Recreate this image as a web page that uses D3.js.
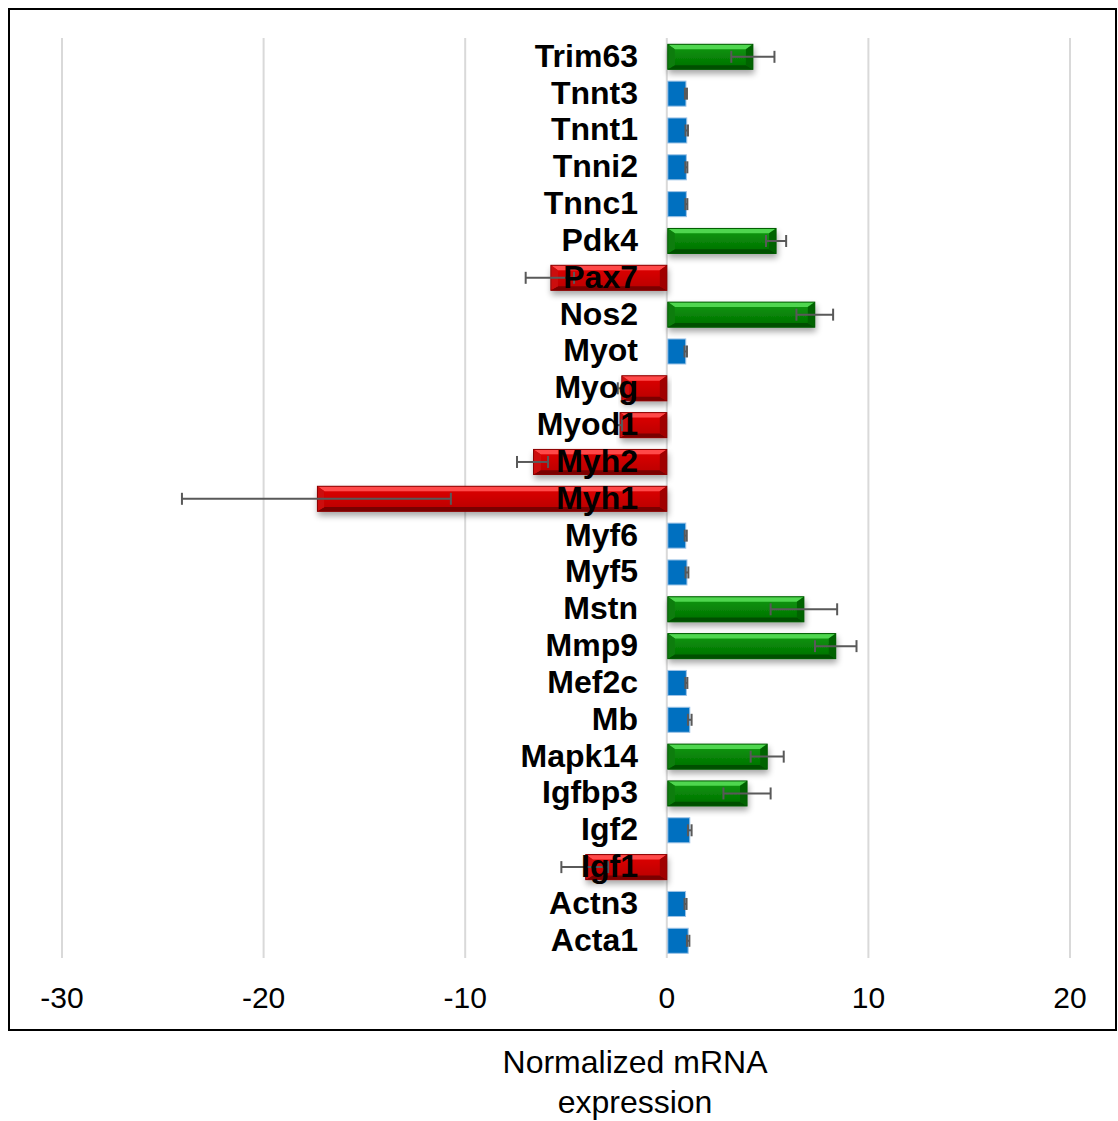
<!DOCTYPE html>
<html>
<head>
<meta charset="utf-8">
<script src="https://cdn.jsdelivr.net/npm/d3@7"></script>
<style>
  html, body { margin: 0; padding: 0; background: #fff; }
  svg { display: block; font-family: "Liberation Sans", Arial, sans-serif; }
</style>
</head>
<body>
<svg id="chart" width="1118" height="1121"></svg>
<script>
// Genes, top to bottom
const genes = ["Trim63", "Tnnt3", "Tnnt1", "Tnni2", "Tnnc1", "Pdk4", "Pax7", "Nos2", "Myot", "Myog",
  "Myod1", "Myh2", "Myh1", "Myf6", "Myf5", "Mstn", "Mmp9", "Mef2c", "Mb", "Mapk14",
  "Igfbp3", "Igf2", "Igf1", "Actn3", "Acta1"];
// Normalized expression (mean)
const expression = [4.27, 0.95, 0.99, 0.97, 0.97, 5.42, -5.8, 7.34, 0.94, -2.28,
  -2.37, -6.66, -17.38, 0.94, 1.0, 6.8, 8.38, 0.97, 1.14, 4.98,
  3.98, 1.14, -4.07, 0.93, 1.06];
// Error (+/-)
const errors = [1.07, 0.05, 0.06, 0.05, 0.05, 0.5, 1.2, 0.91, 0.06, 0.15,
  0.15, 0.77, 6.67, 0.05, 0.07, 1.65, 1.03, 0.05, 0.09, 0.82,
  1.17, 0.09, 1.16, 0.05, 0.06];
// Regulation group
const regulation = ["up", "none", "none", "none", "none", "up", "down", "up", "none", "down",
  "down", "down", "down", "none", "none", "up", "up", "none", "none", "up",
  "up", "none", "down", "none", "none"];
const xTicks = [-30, -20, -10, 0, 10, 20];
const axisTitle = ["Normalized mRNA", "expression"];

const rows = genes.map((g, i) => ({ gene: g, value: expression[i], err: errors[i], group: regulation[i] }));

const svg = d3.select("#chart");
const x = d3.scaleLinear().domain([-30, 20]).range([62, 1070]);
const y = d3.scaleBand().domain(genes).range([38.4, 959.2]).paddingInner(0.32).paddingOuter(0.16);

const palette = {
  up:   { light: "#4fd64f", face0: "#0f9a0f", face1: "#006e00", dark: "#005000", side: "#0a7d0a", side2: "#066306", stroke: "#005a00" },
  down: { light: "#ff4a4a", face0: "#e00000", face1: "#b80000", dark: "#7a0000", side: "#cc1010", side2: "#a00000", stroke: "#8a0000" }
};

const defs = svg.append("defs");
Object.entries(palette).forEach(([k, c]) => {
  const g = defs.append("linearGradient").attr("id", "face-" + k).attr("x1", 0).attr("y1", 0).attr("x2", 0).attr("y2", 1);
  g.append("stop").attr("offset", "0%").attr("stop-color", c.face0);
  g.append("stop").attr("offset", "100%").attr("stop-color", c.face1);
});
const shadow = defs.append("filter").attr("id", "shadow").attr("x", "-10%").attr("y", "-30%").attr("width", "120%").attr("height", "180%");
shadow.append("feGaussianBlur").attr("in", "SourceAlpha").attr("stdDeviation", 3).attr("result", "b");
shadow.append("feOffset").attr("in", "b").attr("dx", 1).attr("dy", 4).attr("result", "o");
shadow.append("feComponentTransfer").attr("in", "o").attr("result", "s")
  .append("feFuncA").attr("type", "linear").attr("slope", 0.35);
const merge = shadow.append("feMerge");
merge.append("feMergeNode").attr("in", "s");
merge.append("feMergeNode").attr("in", "SourceGraphic");

// Frame
svg.append("rect").attr("x", 9).attr("y", 9).attr("width", 1107).attr("height", 1021)
  .attr("fill", "none").attr("stroke", "#000").attr("stroke-width", 2);

// Vertical gridlines
svg.append("g").selectAll("line").data(xTicks).join("line")
  .attr("x1", d => x(d)).attr("x2", d => x(d))
  .attr("y1", 38).attr("y2", 958)
  .attr("stroke", "#d9d9d9").attr("stroke-width", 2);

// Bars
const bars = svg.append("g");
rows.forEach(r => {
  const x0 = Math.min(x(0), x(r.value)) + 1;
  const x1 = Math.max(x(0), x(r.value));
  const y0 = y(r.gene), y1 = y0 + y.bandwidth();
  if (r.group === "none") {
    bars.append("rect").attr("x", x0).attr("y", y0).attr("width", x1 - x0).attr("height", y1 - y0)
      .attr("fill", "#0070c0").attr("stroke", "#9dc3e6").attr("stroke-width", 1);
    return;
  }
  const c = palette[r.group];
  const b = 7;
  const g = bars.append("g").attr("filter", "url(#shadow)");
  g.append("rect").attr("x", x0).attr("y", y0).attr("width", x1 - x0).attr("height", y1 - y0)
    .attr("fill", `url(#face-${r.group})`);
  const poly = (pts, fill) => g.append("polygon").attr("points", pts.map(p => p.join(",")).join(" ")).attr("fill", fill);
  poly([[x0, y0], [x1, y0], [x1 - b, y0 + b * 0.7], [x0 + b, y0 + b * 0.7]], c.light);
  poly([[x0, y1], [x1, y1], [x1 - b, y1 - b * 0.6], [x0 + b, y1 - b * 0.6]], c.dark);
  poly([[x0, y0], [x0 + b, y0 + b * 0.7], [x0 + b, y1 - b * 0.6], [x0, y1]], c.side);
  poly([[x1, y0], [x1 - b, y0 + b * 0.7], [x1 - b, y1 - b * 0.6], [x1, y1]], c.side2);
  g.append("rect").attr("x", x0).attr("y", y0).attr("width", x1 - x0).attr("height", y1 - y0)
    .attr("fill", "none").attr("stroke", c.stroke).attr("stroke-width", 1);
});

// Error bars
const eb = svg.append("g").attr("stroke", "#595959").attr("stroke-width", 2);
rows.forEach(r => {
  const cy = y(r.gene) + y.bandwidth() / 2;
  const lo = x(r.value - r.err), hi = x(r.value + r.err);
  eb.append("line").attr("x1", lo).attr("x2", hi).attr("y1", cy).attr("y2", cy);
  [lo, hi].forEach(px => eb.append("line").attr("x1", px).attr("x2", px).attr("y1", cy - 6).attr("y2", cy + 6));
});

// Gene labels
svg.append("g").selectAll("text").data(rows).join("text")
  .attr("x", 638).attr("y", d => y(d.gene) + y.bandwidth() / 2 + 10)
  .attr("text-anchor", "end").attr("font-size", 32).attr("font-weight", "bold").attr("fill", "#000")
  .text(d => d.gene);

// Tick labels
svg.append("g").selectAll("text").data(xTicks).join("text")
  .attr("x", d => x(d)).attr("y", 1008).attr("text-anchor", "middle")
  .attr("font-size", 30).attr("fill", "#000").text(d => d);

// Axis title
svg.append("g").selectAll("text").data(axisTitle).join("text")
  .attr("x", 635).attr("y", (d, i) => 1073 + i * 40).attr("text-anchor", "middle")
  .attr("font-size", 32).attr("fill", "#000").text(d => d);
</script>
</body>
</html>
